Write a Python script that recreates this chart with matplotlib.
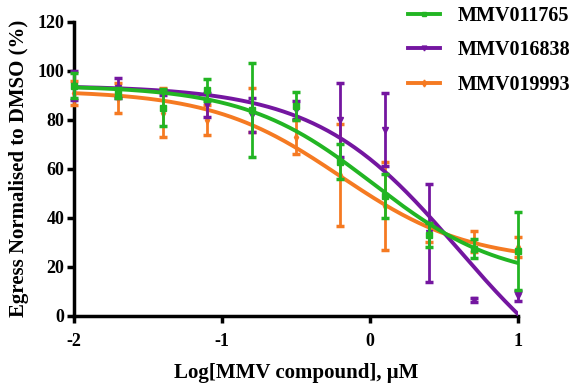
import numpy as np
import matplotlib
matplotlib.use('Agg')
import matplotlib.pyplot as plt
from matplotlib.lines import Line2D

plt.rcParams['font.family'] = 'Liberation Serif'
plt.rcParams['font.weight'] = 'bold'
plt.rcParams['axes.unicode_minus'] = False

# log concentration
log_conc = [-2.0, -1.7, -1.4, -1.1, -0.8, -0.5, -0.2, 0.1, 0.4, 0.7, 1.0]

# means and errors
mmv011765_mean = [94, 91, 85, 92, 84, 85.6, 63, 49, 33, 27.5, 26.5]
mmv011765_err = [5, 2, 7.5, 4.5, 19, 5.6, 7, 9, 5, 4, 16]
mmv016838_mean = [94, 93, 91, 86, 82, 84, 80, 76, 34, 6.5, 8]
mmv016838_err = [6, 4, 1, 5, 7, 3.5, 15, 15, 20, 1, 2]
mmv019993_mean = [91, 89, 83, 80, 84, 73, 57.5, 45, 34, 30.5, 28]
mmv019993_err = [5, 6, 10, 6, 9, 7, 21, 18, 4, 4.3, 4]

# fitted 4PL parameters: top, bottom, logIC50, hill
mmv011765_fit = [94, 14, 0.02, 1.0]
mmv016838_fit = [94, -40, 0.6, 0.9]
mmv019993_fit = [92, 22, -0.2, 1.0]

names = ['MMV011765', 'MMV016838', 'MMV019993']
colors = ['#22b523', '#7416a0', '#f57a22']
markers = ['s', 'v', 'd']


def four_pl(x, top, bottom, logic50, hill):
    return bottom + (top - bottom) / (1 + 10 ** ((x - logic50) * hill))


fig = plt.figure(figsize=(5.73, 3.9), dpi=100)
ax = fig.add_axes([0.129, 0.19, 0.775, 0.754])

series = [
    (mmv011765_mean, mmv011765_err, mmv011765_fit),
    (mmv016838_mean, mmv016838_err, mmv016838_fit),
    (mmv019993_mean, mmv019993_err, mmv019993_fit),
]
zorders = [5, 4, 3]
xs = np.linspace(-2, 1, 300)

for (mean, err, fit), col, mk, z in zip(series, colors, markers, zorders):
    eb = ax.errorbar(log_conc, mean, yerr=err, fmt=mk, color=col, ms=4,
                     elinewidth=2, capsize=3, capthick=2.5, zorder=z)
    for art in eb.lines[1] + eb.lines[2]:
        art.set_clip_on(False)
    eb.lines[0].set_clip_on(False)
    ax.plot(xs, four_pl(xs, *fit), color=col, lw=2.8, zorder=z)

ax.set_xlim(-2, 1)
ax.set_ylim(0, 120)
ax.set_xticks([-2, -1, 0, 1])
ax.set_yticks([0, 20, 40, 60, 80, 100, 120])
for s in ['top', 'right']:
    ax.spines[s].set_visible(False)
for s in ['left', 'bottom']:
    ax.spines[s].set_linewidth(2.5)
ax.tick_params(width=2.5, length=5, labelsize=13)
ax.tick_params(axis='x', pad=7)
ax.tick_params(axis='y', pad=2)
for lab in ax.get_xticklabels() + ax.get_yticklabels():
    lab.set_fontweight('bold')

ax.set_xlabel('Log[MMV compound], \u03bcM', fontsize=15, fontweight='bold', labelpad=10)
ax.set_ylabel('Egress Normalised to DMSO (%)', fontsize=15, fontweight='bold', labelpad=6)

handles = [Line2D([0], [0], color=c, lw=2.8, marker=m, ms=3.5) for c, m in zip(colors, markers)]
leg = fig.legend(handles, names, loc='upper left', bbox_to_anchor=(0.708, 0.99),
                 frameon=False, prop={'weight': 'bold', 'size': 14.5},
                 handlelength=1.6, handletextpad=0.9, labelspacing=0.72,
                 borderpad=0.1, borderaxespad=0)

fig.savefig('out.png', dpi=100)
